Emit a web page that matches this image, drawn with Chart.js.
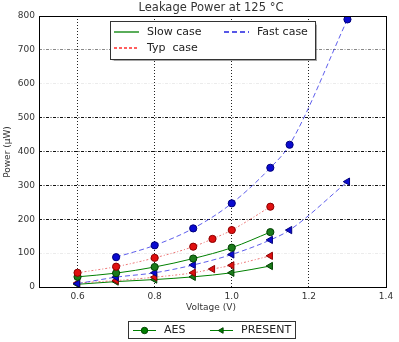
<!DOCTYPE html>
<html>
<head>
<meta charset="utf-8">
<script src="https://cdn.jsdelivr.net/npm/chart.js@4/dist/chart.umd.min.js"></script>
<style>
  html, body { margin: 0; padding: 0; background: #fff; }
  #wrap { position: relative; width: 399px; height: 342px; }
</style>
</head>
<body>
<div id="wrap"><canvas id="chart" width="399" height="342"></canvas></div>
<script>
"use strict";

// voltages (V) for each curve
var voltsSlow = [0.6, 0.7, 0.8, 0.9, 1.0, 1.1];
var voltsTyp = [0.6, 0.7, 0.8, 0.9, 0.95, 1.0, 1.1];
var voltsFastAES = [0.7, 0.8, 0.9, 1.0, 1.1, 1.15, 1.3];
var voltsFastPRESENT = [0.6, 0.7, 0.8, 0.9, 1.0, 1.1, 1.15, 1.3];

// leakage power (uW)
var slowAES = [30, 41, 59, 84, 116, 162];
var slowPRESENT = [8, 16, 22, 30, 42, 62];
var typAES = [42, 60, 86, 119, 142, 168, 237];
var typPRESENT = [12, 19, 29, 42, 53, 64, 92];
var fastAES = [88, 123, 173, 247, 352, 420, 790];
var fastPRESENT = [10, 29, 42, 65, 96, 139, 168, 311];

var xTicks = [0.6, 0.8, 1.0, 1.2, 1.4];
var yTicks = [0, 100, 200, 300, 400, 500, 600, 700, 800];

var GREEN = "#008000";
var BLUE = "#2020e0";
var FONT = "'DejaVu Sans', sans-serif";

function pairs(xs, ys) {
  return xs.map(function(x, i) { return { x: x, y: ys[i] }; });
}

function series(xs, ys, color, dash, marker, fill, edge) {
  return {
    data: pairs(xs, ys),
    borderColor: color,
    borderWidth: 1,
    borderDash: dash,
    backgroundColor: fill,
    pointBackgroundColor: fill,
    pointBorderColor: edge,
    pointBorderWidth: 1,
    pointStyle: marker === "tri" ? "triangle" : "circle",
    rotation: marker === "tri" ? 270 : 0,
    pointRadius: marker === "tri" ? 4.2 : 3.6,
    cubicInterpolationMode: "monotone",
    fill: false
  };
}

var decor = {
  id: "decor",
  afterDraw: function(chart) {
    var ctx = chart.ctx;
    var a = chart.chartArea;
    ctx.save();

    // frame round the axes
    ctx.strokeStyle = "#000";
    ctx.lineWidth = 1;
    ctx.setLineDash([]);
    ctx.strokeRect(Math.round(a.left) + 0.5, Math.round(a.top) + 0.5,
      Math.round(a.right - a.left), Math.round(a.bottom - a.top));

    // title
    ctx.fillStyle = "#333";
    ctx.font = "11.5px " + FONT;
    ctx.textAlign = "center";
    ctx.textBaseline = "middle";
    ctx.fillText("Leakage Power at 125 \u00b0C", 211, 8);

    // axis titles
    ctx.font = "9px " + FONT;
    ctx.fillStyle = "#333";
    ctx.fillText("Voltage (V)", 211, 308);
    ctx.save();
    ctx.translate(8, 152);
    ctx.rotate(-Math.PI / 2);
    ctx.fillText("Power (\u03bcW)", 0, 0);
    ctx.restore();

    // case legend
    ctx.shadowColor = "rgba(0,0,0,0.35)";
    ctx.shadowOffsetX = 1.5;
    ctx.shadowOffsetY = 1.5;
    ctx.shadowBlur = 1;
    ctx.fillStyle = "#fff";
    ctx.fillRect(110, 21, 205, 38);
    ctx.shadowColor = "transparent";
    ctx.strokeStyle = "#333";
    ctx.strokeRect(110.5, 21.5, 205, 38);

    ctx.font = "11px " + FONT;
    ctx.textAlign = "left";
    var cases = [
      { label: "Slow case", color: GREEN, dash: [], x: 114, y: 32 },
      { label: "Fast case", color: BLUE, dash: [5, 3], x: 224, y: 32 },
      { label: "Typ  case", color: "#ff2a2a", dash: [3, 2], x: 114, y: 48 }
    ];
    cases.forEach(function(c) {
      ctx.strokeStyle = c.color;
      ctx.lineWidth = 1.3;
      ctx.setLineDash(c.dash);
      ctx.beginPath();
      ctx.moveTo(c.x, c.y);
      ctx.lineTo(c.x + 25, c.y);
      ctx.stroke();
      ctx.setLineDash([]);
      ctx.fillStyle = "#222";
      ctx.fillText(c.label, c.x + 33, c.y);
    });

    // cipher legend
    ctx.lineWidth = 1;
    ctx.fillStyle = "#fff";
    ctx.fillRect(128, 321, 167, 17);
    ctx.strokeStyle = "#333";
    ctx.strokeRect(128.5, 321.5, 167, 17);
    var ciphers = [
      { label: "AES", style: "circle", rot: 0, x: 133 },
      { label: "PRESENT", style: "triangle", rot: 270, x: 210 }
    ];
    ciphers.forEach(function(c) {
      ctx.strokeStyle = GREEN;
      ctx.beginPath();
      ctx.moveTo(c.x, 330.5);
      ctx.lineTo(c.x + 23, 330.5);
      ctx.stroke();
      ctx.fillStyle = GREEN;
      ctx.strokeStyle = "#004000";
      Chart.helpers.drawPoint(ctx, { pointStyle: c.style, rotation: c.rot, radius: 3.2, borderWidth: 1 }, c.x + 11.5, 330.5);
      ctx.fillStyle = "#222";
      ctx.fillText(c.label, c.x + 31, 330);
    });
    ctx.restore();
  }
};

new Chart(document.getElementById("chart"), {
  type: "line",
  data: {
    datasets: [
      series(voltsFastAES, fastAES, "rgba(40,40,230,0.75)", [5, 3], "dot", "#0a0ad0", "#00007a"),
      series(voltsTyp, typAES, "rgba(230,60,60,0.7)", [2, 2, 1, 2], "dot", "#e01010", "#8a0000"),
      series(voltsSlow, slowAES, GREEN, [], "dot", "#1a7a1a", "#004000"),
      series(voltsFastPRESENT, fastPRESENT, "rgba(40,40,230,0.75)", [5, 3], "tri", "#0a0ad0", "#00007a"),
      series(voltsTyp, typPRESENT, "rgba(230,60,60,0.7)", [2, 2, 1, 2], "tri", "#e01010", "#8a0000"),
      series(voltsSlow, slowPRESENT, GREEN, [], "tri", "#1a7a1a", "#004000")
    ]
  },
  options: {
    responsive: false,
    animation: false,
    layout: { padding: { top: 16, right: 13, left: 0, bottom: 0 } },
    plugins: {
      legend: { display: false },
      title: { display: false },
      tooltip: { enabled: false }
    },
    scales: {
      x: {
        type: "linear",
        min: 0.5,
        max: 1.4,
        afterBuildTicks: function(scale) {
          scale.ticks = xTicks.map(function(v) { return { value: v }; });
        },
        afterFit: function(scale) { scale.height = 55; },
        ticks: {
          padding: 4,
          color: "#333",
          font: { family: FONT, size: 9 },
          maxRotation: 0,
          callback: function(v) { return v.toFixed(1); }
        },
        grid: { color: "#222", drawTicks: false, lineWidth: 1 },
        border: { display: false, dash: [1, 2] }
      },
      y: {
        min: 0,
        max: 800,
        afterBuildTicks: function(scale) {
          scale.ticks = yTicks.map(function(v) { return { value: v }; });
        },
        afterFit: function(scale) { scale.width = 39; },
        ticks: {
          padding: 4,
          color: "#333",
          font: { family: FONT, size: 9 }
        },
        grid: {
          drawTicks: false,
          lineWidth: 1,
          color: function(ctx) {
            var v = ctx.tick ? ctx.tick.value : 0;
            if (v === 100 || v === 600) return "rgba(0,0,0,0.08)";
            if (v === 700) return "#888";
            return "#111";
          }
        },
        border: { display: false, dash: [3, 1.5, 1, 1.5] }
      }
    }
  },
  plugins: [decor]
});
</script>
</body>
</html>
